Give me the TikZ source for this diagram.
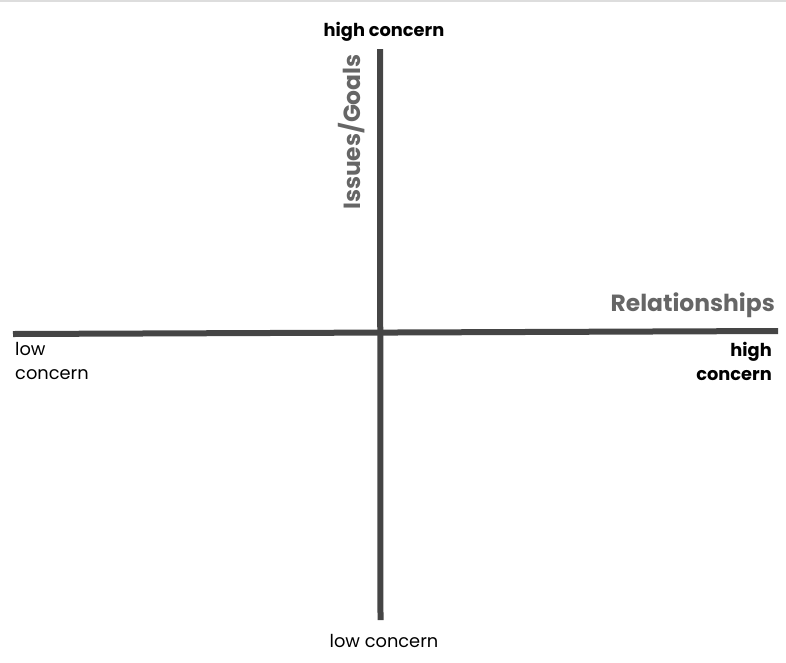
\documentclass[tikz,border=0pt]{standalone}
\usepackage{fontspec}
\setmainfont{Poppins}
\definecolor{axisgray}{HTML}{454545}
\definecolor{labelgray}{HTML}{666666}
\definecolor{rulegray}{HTML}{DDDDDD}
\begin{document}
\begin{tikzpicture}[x=1pt,y=-1pt,
  axisline/.style={draw=axisgray,line width=6pt,line cap=butt},
  endlabel/.style={font=\fontsize{17.8}{24}\selectfont,text=black,inner sep=0pt},
  boldend/.style={endlabel,font=\fontsize{17.8}{24}\selectfont\bfseries},
  axislabel/.style={font=\fontsize{23.4}{28}\selectfont\bfseries,text=labelgray,inner sep=0pt}]
\useasboundingbox (0,0) rectangle (786,662);
\fill[rulegray] (0,0) rectangle (786,1.5);
% axes
\coordinate (vtop) at (380,49);
\coordinate (vbot) at (380.5,620);
\coordinate (hleft) at (13,334);
\coordinate (hright) at (778,331);
\draw[axisline] (vtop) -- (vbot);
\draw[axisline] (hleft) -- (hright);
% labels
\node[boldend,anchor=base] (tophigh) at (384,36) {high concern};
\node[endlabel,anchor=base] (botlow) at (384,647) {low concern};
\node[endlabel,anchor=north west,align=left] (leftlow) at (15,342) {low\\concern};
\node[boldend,anchor=north east,align=right] (righthigh) at (772,342) {high\\concern};
\node[axislabel,anchor=base east] (rel) at (775,311) {Relationships};
\node[axislabel,rotate=90,anchor=base west] (iss) at (360,210) {Issues/Goals};
\end{tikzpicture}
\end{document}
